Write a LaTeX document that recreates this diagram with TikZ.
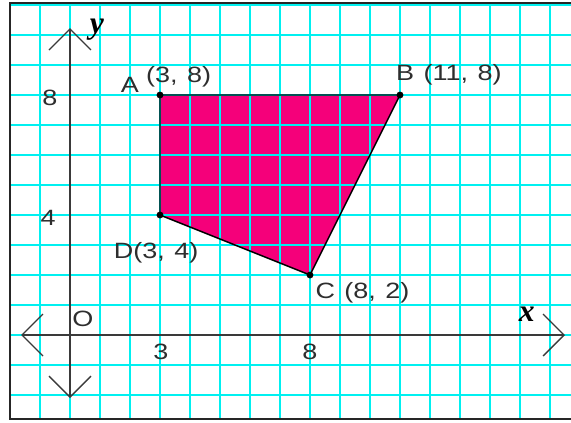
\documentclass[tikz,border=0pt]{standalone}
\usepackage{fontspec}
\newfontfamily\lblfont{Liberation Sans}[FakeStretch=1.22,WordSpace=1.25]
\newfontfamily\axfont{Liberation Serif}
\usepackage{xcolor}
\definecolor{qgrid}{HTML}{00F0F0}
\definecolor{qfill}{HTML}{F5007A}
\definecolor{qaxis}{HTML}{3A3A3A}
\definecolor{qtext}{HTML}{2E2E2E}
\usetikzlibrary{arrows.meta,positioning}

\begin{document}
\begin{tikzpicture}[x=1cm,y=1cm,
  lbl/.style={inner sep=0pt,text=qtext,font=\lblfont\fontsize{21}{23}\selectfont},
  axlbl/.style={inner sep=0pt,text=black,font=\axfont\fontsize{30}{30}\selectfont\bfseries\itshape},
  gridln/.style={draw=qgrid,line width=1.8pt},
  edge/.style={draw=black,line width=1.4pt,line join=round},
  vdot/.style={circle,fill=black,inner sep=0pt,minimum size=2.3mm},
  axis/.style={draw=qaxis,line width=1.8pt,arrows={Straight Barb[length=7mm,width=14mm,line width=1.2pt]-Straight Barb[length=7mm,width=14mm,line width=1.2pt]}}]
\useasboundingbox (-2.333,-2.9) rectangle (16.7,11.167);
\clip (-2.333,-2.9) rectangle (16.7,11.167);
% vertices
\coordinate (A) at (3,8);
\coordinate (B) at (11,8);
\coordinate (C) at (8,2);
\coordinate (D) at (3,4);
\fill[qfill] (A)--(B)--(C)--(D)--cycle;
% grid paper
\draw[gridln] (-2,-2.8) grid (16.7,11.07);
\draw[black!85,line width=2pt] (-2,-2.8) rectangle (17,11.07);
\draw[edge] (A)--(B)--(C)--(D)--cycle;
% axes
\coordinate (xl) at (-1.63,0);
\coordinate (xr) at (16.5,0);
\coordinate (yb) at (0,-2.1);
\coordinate (yt) at (0,10.23);
\draw[axis] (xl)--(xr);
\draw[axis] (yb)--(yt);
\node[vdot] (dA) at (A) {};
\node[vdot] (dB) at (B) {};
\node[vdot] (dC) at (C) {};
\node[vdot] (dD) at (D) {};
% labels
\node[lbl] (lA) at (2,8.33) {A};
\node[lbl] (lAc) at (3.62,8.6) {(3, 8)};
\node[lbl] (lB) at (12.63,8.67) {B (11, 8)};
\node[lbl] (lC) at (9.75,1.4) {C (8, 2)};
\node[lbl] (lD) at (2.87,2.73) {D(3, 4)};
\node[lbl] (lO) at (0.43,0.53) {O};
\node[lbl] (t3) at (3.03,-0.57) {3};
\node[lbl] (t8x) at (8,-0.57) {8};
\node[lbl] (t8y) at (-0.67,7.9) {8};
\node[lbl] (t4y) at (-0.73,3.9) {4};
\node[axlbl] (lx) at (15.23,0.7) {x};
\node[axlbl] (ly) at (0.9,10.17) {y};
\end{tikzpicture}
\end{document}
